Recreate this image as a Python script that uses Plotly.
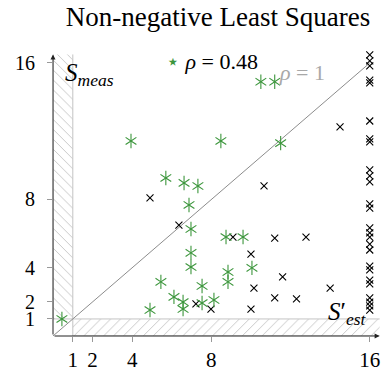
import plotly.graph_objects as go

# ---- data ----
nnls_x = [0.45, 4.9, 5.45, 6.11, 6.57, 6.57, 6.97, 6.97, 7.53, 7.53, 8.13, 8.84, 8.84, 10.05,
          8.74, 9.6, 6.97, 6.87, 5.7, 6.62, 7.32, 3.94, 8.48, 11.5, 10.5, 11.2]
nnls_y = [1.0, 1.52, 3.17, 2.29, 1.99, 1.58, 4.87, 4.04, 2.93, 1.93, 2.11, 3.75, 3.17, 3.99,
          5.8, 5.8, 6.27, 7.68, 9.26, 8.97, 8.79, 11.43, 11.43, 11.3, 14.9, 14.9]

est_x = [4.9, 6.36, 14.5, 10.66, 9.09, 11.2, 12.78, 10.0, 11.6, 10.15, 14.0, 11.2, 12.3, 7.22, 7.98, 10.0]
est_y = [8.1, 6.5, 12.25, 8.8, 5.8, 5.74, 5.8, 4.8, 3.46, 2.8, 2.8, 2.23, 2.17, 1.88, 1.58, 1.58]
col_y = [16.47, 16.12, 15.83, 15.0, 14.83, 12.6, 11.55, 11.37, 9.73, 9.38, 9.03, 7.74, 7.5,
         6.33, 6.04, 5.8, 5.39, 5.04, 4.1, 3.87, 3.28, 3.05, 2.23, 1.99, 1.76, 1.52]
est_x = est_x + [16.0] * len(col_y)
est_y = est_y + col_y

diag = [0, 16]
tick_vals = [1, 2, 4, 8, 16]
tick_text = ["1", "2", "4", "8", "16"]
rho_nnls = 0.48

GREEN = "#3c963c"
FONT = "Liberation Serif, Times New Roman, DejaVu Serif, serif"
XMAX, YMAX = 16.67, 16.76
AX_END = 16.5

fig = go.Figure()

# hatched exclusion strips
fig.add_trace(go.Scatter(x=[0, 0, 1, 1], y=[AX_END, 1, 1, AX_END], mode="lines", fill="toself",
                         line=dict(color="#c4c4c4", width=1), fillcolor="white",
                         fillpattern=dict(shape="\\", fgcolor="#c4c4c4", bgcolor="white", size=7, solidity=0.13),
                         hoverinfo="skip", showlegend=False))
fig.add_trace(go.Scatter(x=[AX_END, 1, 1, AX_END], y=[1, 1, 0, 0], mode="lines", fill="toself",
                         line=dict(color="#c4c4c4", width=1), fillcolor="white",
                         fillpattern=dict(shape="/", fgcolor="#c4c4c4", bgcolor="white", size=7, solidity=0.13),
                         hoverinfo="skip", showlegend=False))

# identity line
fig.add_trace(go.Scatter(x=diag, y=diag, mode="lines", line=dict(color="#8c8c8c", width=1),
                         hoverinfo="skip", showlegend=False))

# estimated points
fig.add_trace(go.Scatter(x=est_x, y=est_y, mode="markers",
                         marker=dict(symbol="x-thin-open", size=7, color="black",
                                     line=dict(color="black", width=1.1)),
                         showlegend=False, cliponaxis=False))

# NNLS stars (6-spoke asterisk built from two symbols)
for sym in ["y-up-open", "y-down-open"]:
    fig.add_trace(go.Scatter(x=nnls_x, y=nnls_y, mode="markers",
                             marker=dict(symbol=sym, size=9, color=GREEN,
                                         line=dict(color=GREEN, width=1.1)),
                             showlegend=False, cliponaxis=False))

annotations = [
    # axes with arrows
    dict(x=0, y=AX_END, ax=0, ay=0, xref="x", yref="y", axref="x", ayref="y", text="",
         showarrow=True, arrowhead=2, arrowsize=1, arrowwidth=1, arrowcolor="#222"),
    dict(x=AX_END, y=0, ax=0, ay=0, xref="x", yref="y", axref="x", ayref="y", text="",
         showarrow=True, arrowhead=2, arrowsize=1, arrowwidth=1, arrowcolor="#222"),
    dict(x=0.5, y=15.3, xref="x", yref="y", xanchor="left", yanchor="middle", showarrow=False,
         text="<i>S</i><sub><i>meas</i></sub>", font=dict(family=FONT, size=25, color="black")),
    dict(x=15.95, y=1.3, xref="x", yref="y", xanchor="right", yanchor="middle", showarrow=False,
         text="<i>S</i>′<sub><i>est</i></sub>", font=dict(family=FONT, size=25, color="black")),
    dict(x=11.3, y=15.47, xref="x", yref="y", xanchor="left", yanchor="middle", showarrow=False,
         text="<i>ρ</i> = 1", font=dict(family=FONT, size=22, color="#a8a8a8")),
    dict(x=5.6, y=16.06, xref="x", yref="y", xanchor="left", yanchor="middle", showarrow=False,
         text=f"<span style='color:{GREEN}'>⋆</span> <i>ρ</i> = {rho_nnls}",
         font=dict(family=FONT, size=22, color="black")),
]

fig.update_layout(
    width=383, height=373,
    margin=dict(l=53, r=0, t=50, b=37),
    template="none",
    font=dict(family=FONT),
    paper_bgcolor="white", plot_bgcolor="white",
    title=dict(text="Non-negative Least Squares", x=0.5, xref="paper", xanchor="center",
               y=1 - 17 / 373, yref="container", yanchor="middle",
               font=dict(family=FONT, size=27, color="black")),
    annotations=annotations,
    showlegend=False,
)
fig.update_xaxes(range=[0, XMAX], tickvals=tick_vals, ticktext=tick_text, ticks="outside",
                 ticklen=5, tickcolor="#999", showline=False, zeroline=False, showgrid=False,
                 tickfont=dict(family=FONT, size=21, color="black"))
fig.update_yaxes(range=[0, YMAX], tickvals=tick_vals, ticktext=tick_text, ticks="outside",
                 ticklen=5, tickcolor="#999", showline=False, zeroline=False, showgrid=False,
                 tickfont=dict(family=FONT, size=20, color="black"), ticklabelstandoff=8)

fig.write_html("out.html")
